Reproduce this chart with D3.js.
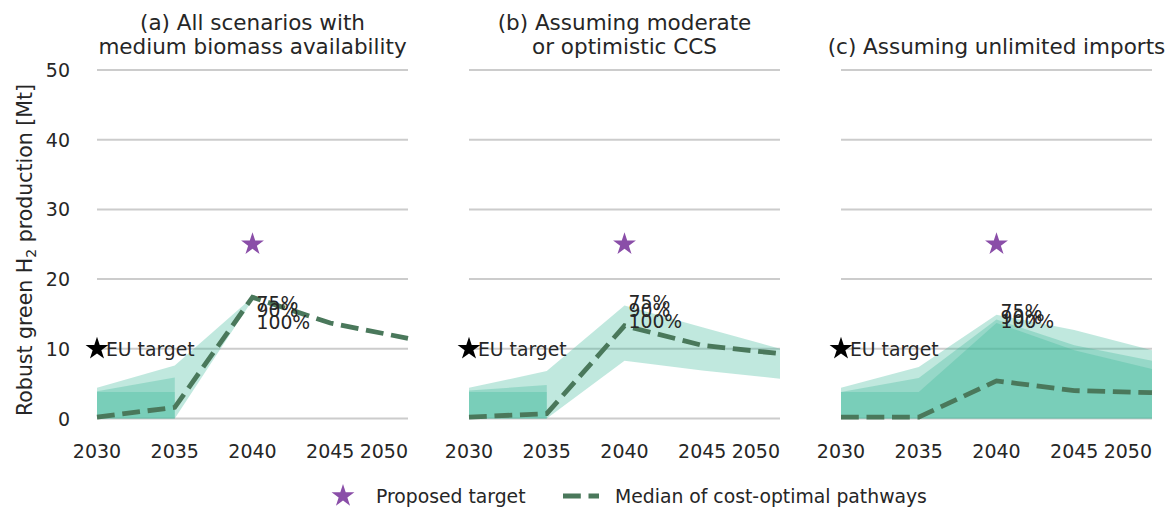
<!DOCTYPE html>
<html><head><meta charset="utf-8">
<script src="https://cdn.jsdelivr.net/npm/d3@7"></script>
<style>
body{margin:0;background:#fff}
text{font-family:"DejaVu Sans",sans-serif;fill:#262626}
</style>
</head><body>
<svg id="chart" width="1172" height="511"></svg>
<script>
// ---------- data ----------
const years = [2030, 2035, 2040, 2045, 2050];
const xTickLabels = ["2030", "2035", "2040", "2045", "2050"];
const yTicks = [0, 10, 20, 30, 40, 50];
const panelTitles = [
  ["(a) All scenarios with", "medium biomass availability"],
  ["(b) Assuming moderate", "or optimistic CCS"],
  ["(c) Assuming unlimited imports"]
];
// median of cost-optimal pathways [Mt]
const medianA = [0.2, 1.6, 17.4, 13.7, 11.5];
const medianB = [0.2, 0.7, 13.3, 10.5, 9.3];
const medianC = [0.2, 0.2, 5.4, 4.0, 3.7];
// robust bands (lower / upper), null = not drawn
const bandA1Lo = [0, 0, 17.0, null, null], bandA1Hi = [4.4, 7.6, 17.4, null, null];
const bandA2Lo = [0, 0, null, null, null], bandA2Hi = [3.9, 5.9, null, null, null];
const bandA3Lo = [0, 0, null, null, null], bandA3Hi = [3.8, 3.8, null, null, null];
const bandB1Lo = [0, 0, 8.3, 6.9, 5.7],   bandB1Hi = [4.4, 6.8, 16.2, 13.1, 10.0];
const bandB2Lo = [0, 0, null, null, null], bandB2Hi = [4.0, 4.8, null, null, null];
const bandB3Lo = [0, 0, null, null, null], bandB3Hi = [3.8, 3.8, null, null, null];
const bandC1Lo = [0, 0, 0, 0, 0],          bandC1Hi = [4.4, 7.4, 14.9, 12.7, 9.8];
const bandC2Lo = [0, 0, 0, 0, 0],          bandC2Hi = [3.8, 5.8, 14.2, 10.5, 8.3];
const bandC3Lo = [0, 0, 0, 0, 0],          bandC3Hi = [3.8, 3.8, 13.7, 9.8, 7.1];
const bandLabels = ["75%", "90%", "100%"];
const bandLabelValuesA = [16.6, 15.5, 13.9];
const bandLabelValuesB = [16.7, 15.5, 14.0];
const bandLabelValuesC = [15.4, 14.5, 14.0];
const euTarget = [2030, 10];
const proposedTarget = [2040, 25];
const legendLabels = ["Proposed target", "Median of cost-optimal pathways"];

const panels = [
  {title: panelTitles[0], median: medianA, bands: [[bandA1Lo, bandA1Hi], [bandA2Lo, bandA2Hi], [bandA3Lo, bandA3Hi]], labelVals: bandLabelValuesA},
  {title: panelTitles[1], median: medianB, bands: [[bandB1Lo, bandB1Hi], [bandB2Lo, bandB2Hi], [bandB3Lo, bandB3Hi]], labelVals: bandLabelValuesB},
  {title: panelTitles[2], median: medianC, bands: [[bandC1Lo, bandC1Hi], [bandC2Lo, bandC2Hi], [bandC3Lo, bandC3Hi]], labelVals: bandLabelValuesC}
];

// ---------- layout ----------
const svg = d3.select("#chart");
const plotTop = 70, plotBottom = 418.5, panelW = 311, panelStep = 372, firstLeft = 97;
const bandColor = "rgb(64,185,155)", bandOpacity = 0.33;
const medianColor = "#4a785b", purple = "#8a4ea8";
const fsTick = 19, fsText = 18.8, fsTitle = 21.5, fsYLabel = 20.5;
const y = d3.scaleLinear().domain([0, 50]).range([plotBottom, plotTop]);
const starPath = (r) => d3.symbol(d3.symbolStar, r * r / 0.8908130915292852)();

panels.forEach((p, i) => {
  const left = firstLeft + i * panelStep;
  const x = d3.scaleLinear().domain([2030, 2050]).range([left, left + panelW]);
  const g = svg.append("g");

  // grid
  g.selectAll("line.grid").data(yTicks).enter().append("line")
    .attr("x1", left).attr("x2", left + panelW)
    .attr("y1", d => y(d)).attr("y2", d => y(d))
    .attr("stroke", "#cccccc").attr("stroke-width", 2);

  // y tick labels (first panel only)
  if (i === 0) {
    g.selectAll("text.yt").data(yTicks).enter().append("text")
      .attr("x", left - 27).attr("y", d => y(d) + 7)
      .attr("text-anchor", "end").attr("font-size", fsTick).text(d => d);
  }
  // x tick labels
  g.selectAll("text.xt").data(years).enter().append("text")
    .attr("x", d => x(d)).attr("y", 458)
    .attr("text-anchor", (d, k) => k === years.length - 1 ? "end" : "middle")
    .attr("font-size", fsTick).text((d, k) => xTickLabels[k]);

  // title
  const cx = left + panelW / 2;
  const lines = p.title;
  lines.forEach((t, k) => {
    const base = lines.length === 2 ? 30 + k * 24 : 54;
    g.append("text").attr("x", cx).attr("y", base).attr("text-anchor", "middle")
      .attr("font-size", fsTitle).text(t);
  });

  // bands
  p.bands.forEach(([lo, hi]) => {
    const pts = years.map((yr, k) => ({yr, lo: lo[k], hi: hi[k]}));
    const area = d3.area().defined(d => d.lo !== null && d.hi !== null)
      .x(d => x(d.yr)).y0(d => y(d.lo)).y1(d => y(d.hi));
    g.append("path").attr("d", area(pts)).attr("fill", bandColor).attr("fill-opacity", bandOpacity);
  });

  // median line
  const line = d3.line().x((d, k) => x(years[k])).y(d => y(d));
  g.append("path").attr("d", line(p.median)).attr("fill", "none")
    .attr("stroke", medianColor).attr("stroke-width", 4.8)
    .attr("stroke-dasharray", "17.8,7.7");

  // proposed target star
  g.append("path").attr("d", starPath(12))
    .attr("transform", `translate(${x(proposedTarget[0])},${y(proposedTarget[1])})`)
    .attr("fill", purple);

  // EU target
  g.append("path").attr("d", starPath(12))
    .attr("transform", `translate(${x(euTarget[0])},${y(euTarget[1])})`)
    .attr("fill", "#000");
  g.append("text").attr("x", x(euTarget[0]) + 9).attr("y", y(euTarget[1]) + 7)
    .attr("font-size", fsText).text("EU target");

  // band labels
  bandLabels.forEach((lab, k) => {
    g.append("text").attr("x", x(2040) + 4).attr("y", y(p.labelVals[k]) + 7)
      .attr("font-size", fsText).text(lab);
  });
});

// y label
const yl = svg.append("text").attr("transform", "translate(32,250) rotate(-90)")
  .attr("text-anchor", "middle").attr("font-size", fsYLabel);
yl.append("tspan").text("Robust green H");
yl.append("tspan").attr("font-size", 14).attr("dy", 4).text("2");
yl.append("tspan").attr("dy", -4).text(" production [Mt]");

// legend
const lg = svg.append("g");
lg.append("path").attr("d", starPath(12)).attr("transform", "translate(343,496)").attr("fill", purple);
lg.append("text").attr("x", 376).attr("y", 503).attr("font-size", fsText).text(legendLabels[0]);
lg.append("line").attr("x1", 563).attr("x2", 599).attr("y1", 496).attr("y2", 496)
  .attr("stroke", medianColor).attr("stroke-width", 4.8).attr("stroke-dasharray", "17.8,7.7");
lg.append("text").attr("x", 615).attr("y", 503).attr("font-size", fsText).text(legendLabels[1]);
</script>
</body></html>
